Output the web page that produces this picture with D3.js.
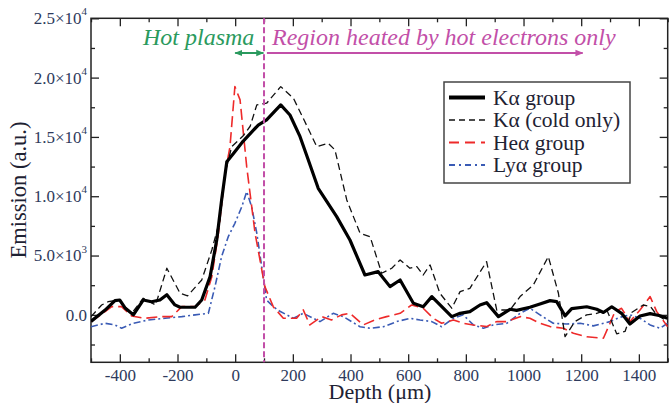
<!DOCTYPE html>
<html>
<head>
<meta charset="utf-8">
<script src="https://cdn.jsdelivr.net/npm/d3@7"></script>
<style>
  html, body { margin: 0; padding: 0; background: #fff; }
  svg { display: block; }
  text { font-family: 'Liberation Serif', serif; }
</style>
</head>
<body>
<div id="chart"></div>
<script>
// ---------------- data ----------------
const xDomain = [-500, 1500];
const yDomain = [-4000, 25000];
const xTicks = [-400, -200, 0, 200, 400, 600, 800, 1000, 1200, 1400];
const xMinorTicks = [-500, -300, -100, 100, 300, 500, 700, 900, 1100, 1300, 1500];
const yTicks = [0, 5000, 10000, 15000, 20000, 25000];
const yTickMantissa = ["0.0", "5.0", "1.0", "1.5", "2.0", "2.5"];
const yTickExponent = [null, "3", "4", "4", "4", "4"];
const yMinorTicks = [-2500, 2500, 7500, 12500, 17500, 22500];

const seriesNames = ["Kα group", "Kα (cold only)", "Heα group", "Lyα group"];

const kaGroup = [[-500,-550],[-451,400],[-417,1200],[-400,1250],[-382,580],[-353,0],[-319,1250],[-290,1100],[-261,1250],[-237,1700],[-209,840],[-191,640],[-139,640],[-116,1250],[-87,3220],[-64,6310],[-47,9690],[-29,12900],[-6,13600],[28,14650],[80,16000],[109,16430],[158,17700],[190,16850],[225,15020],[250,13300],[288,10670],[352,8280],[398,6310],[450,3360],[496,3640],[537,2380],[572,2940],[618,980],[652,690],[682,1540],[751,-150],[780,130],[814,270],[849,830],[872,1030],[913,-150],[953,470],[976,380],[1022,640],[1057,920],[1092,1200],[1115,1110],[1144,-90],[1167,520],[1219,680],[1254,470],[1277,200],[1306,680],[1340,130],[1369,-780],[1404,-100],[1439,100],[1470,-50],[1500,-290]];

const kaCold = [[-500,-150],[-463,830],[-440,1110],[-405,1250],[-359,130],[-319,1400],[-276,830],[-237,3930],[-191,1820],[-165,1600],[-116,2940],[-81,5470],[-53,8000],[-35,11940],[-12,14180],[28,15100],[52,15900],[75,17700],[109,17840],[158,19240],[202,18260],[236,16570],[283,14180],[323,14460],[346,13900],[387,9690],[433,6880],[468,6590],[508,3510],[543,3930],[572,4630],[606,3930],[630,4070],[652,3360],[676,4210],[710,1820],[751,560],[780,1960],[814,2240],[872,4490],[907,410],[953,410],[988,1540],[1034,2520],[1086,4910],[1121,1820],[1144,-1840],[1178,-570],[1219,0],[1250,100],[1289,410],[1323,-1600],[1352,-1400],[1375,200],[1415,830],[1440,700],[1462,0],[1500,-570]];

const heAlpha = [[-500,-570],[-451,270],[-428,690],[-394,690],[-359,-90],[-313,-290],[-255,-150],[-220,-150],[-185,690],[-139,690],[-105,1250],[-81,3220],[-58,6880],[-35,11940],[-18,14180],[-1,19240],[17,18120],[40,12490],[69,6880],[103,2380],[132,690],[167,-290],[213,-290],[236,420],[259,-850],[300,-150],[334,-430],[369,0],[398,130],[444,-850],[485,-430],[525,-150],[572,130],[612,830],[652,560],[687,-290],[716,-710],[757,-430],[791,-710],[826,-850],[872,-990],[907,-570],[942,-570],[988,-150],[1022,-290],[1057,-710],[1092,-990],[1138,-1130],[1173,-1550],[1219,-1840],[1277,-1970],[1300,-710],[1317,270],[1340,550],[1369,-570],[1404,410],[1439,1540],[1462,270],[1500,-1000]];

const lyAlpha = [[-500,-1000],[-451,-710],[-417,-850],[-394,-1130],[-353,-710],[-301,-430],[-243,-290],[-185,-150],[-139,0],[-93,130],[-70,2380],[-47,4910],[-24,6590],[-1,7720],[23,9120],[40,10390],[57,9120],[75,6880],[92,4070],[109,1250],[132,690],[155,300],[202,-290],[236,130],[294,-570],[340,130],[375,-150],[433,-1000],[468,-1130],[514,-1000],[560,-570],[606,-290],[641,-430],[682,-570],[716,-1000],[757,-290],[791,0],[826,-850],[861,-1130],[895,-850],[942,-710],[988,130],[1022,560],[1057,0],[1103,-710],[1150,-770],[1196,-710],[1242,-930],[1300,-570],[1335,-200],[1369,0],[1404,-290],[1439,-850],[1473,-1130],[1500,-710]];

const seriesData = [kaGroup, kaCold, heAlpha, lyAlpha];
const seriesColors = ["#000000", "#111111", "#ee2a2a", "#3a5bb5"];
const seriesWidths = [3.2, 1.3, 1.6, 1.6];
const seriesDash = [null, "7,4", "11,5", "7,3,2,3"];

const annotHot = "Hot plasma";
const annotRegion = "Region heated by hot electrons only";
const boundaryDepth = 100;
const hotArrow = [0, 98];
const regionArrow = [110, 1205];

// ---------------- layout ----------------
const W = 670, H = 403;
const L = 91, R = 667.7, T = 18.3, B = 362.3;
const tickColor = "#2e3a5c";
const titleColor = "#1e2233";
const SERIF = "'Liberation Serif', serif";

const svg = d3.select("#chart").append("svg").attr("width", W).attr("height", H)
  .style("font-family", SERIF);

const x = d3.scaleLinear().domain(xDomain).range([L, R]);
const y = d3.scaleLinear().domain(yDomain).range([B, T]);

const defs = svg.append("defs");
defs.append("clipPath").attr("id", "clip")
  .append("rect").attr("x", L).attr("y", T).attr("width", R - L).attr("height", B - T);

function marker(id, color, orient) {
  defs.append("marker").attr("id", id).attr("viewBox", "0 0 10 10")
    .attr("refX", 9).attr("refY", 5).attr("markerWidth", 4).attr("markerHeight", 4)
    .attr("orient", orient).attr("markerUnits", "strokeWidth")
    .append("path").attr("d", "M0,1 L10,5 L0,9 Z").attr("fill", color);
}
marker("gEnd", "#2a9a5e", "auto");
marker("gStart", "#2a9a5e", "auto-start-reverse");
marker("mEnd", "#c24fa8", "auto");

// axes (ticks inward)
function axisTicks(axisGen, transform) {
  const g = svg.append("g").attr("transform", transform).call(axisGen)
    .attr("font-family", null).style("font-family", SERIF);
  g.select(".domain").remove();
  g.selectAll(".tick line").attr("stroke", "#222").attr("stroke-width", 1.3);
  return g;
}
const fmtNone = () => "";
// bottom
const gx = axisTicks(d3.axisBottom(x).tickValues(xTicks).tickSize(-8).tickPadding(7).tickFormat(d => d), `translate(0,${B})`);
gx.selectAll("text").attr("fill", tickColor).attr("font-size", 17).style("font-family", SERIF);
axisTicks(d3.axisBottom(x).tickValues(xMinorTicks).tickSize(-4).tickFormat(fmtNone), `translate(0,${B})`);
// top
axisTicks(d3.axisTop(x).tickValues(xTicks).tickSize(-8).tickFormat(fmtNone), `translate(0,${T})`);
axisTicks(d3.axisTop(x).tickValues(xMinorTicks).tickSize(-4).tickFormat(fmtNone), `translate(0,${T})`);
// left
const gy = axisTicks(d3.axisLeft(y).tickValues(yTicks).tickSize(-8).tickPadding(4).tickFormat(fmtNone), `translate(${L},0)`);
axisTicks(d3.axisLeft(y).tickValues(yMinorTicks).tickSize(-4).tickFormat(fmtNone), `translate(${L},0)`);
// right
axisTicks(d3.axisRight(y).tickValues(yTicks).tickSize(-8).tickFormat(fmtNone), `translate(${R},0)`);
axisTicks(d3.axisRight(y).tickValues(yMinorTicks).tickSize(-4).tickFormat(fmtNone), `translate(${R},0)`);

// y tick labels with superscripts
gy.selectAll(".tick text").each(function(d) {
  const i = yTicks.indexOf(d);
  const t = d3.select(this).text(null).attr("fill", tickColor).attr("font-size", 17)
    .style("font-family", SERIF).attr("x", -4).attr("dy", "0.32em");
  if (yTickExponent[i]) {
    t.append("tspan").text(yTickMantissa[i] + "×10");
    t.append("tspan").text(yTickExponent[i]).attr("font-size", 11).attr("dy", "-0.8em");
  } else {
    t.append("tspan").text(yTickMantissa[i]);
  }
});

// frame
svg.append("rect").attr("x", L).attr("y", T).attr("width", R - L).attr("height", B - T)
  .attr("fill", "none").attr("stroke", "#222").attr("stroke-width", 1.5);

// series
const line = d3.line().x(d => x(d[0])).y(d => y(d[1]));
const plot = svg.append("g").attr("clip-path", "url(#clip)");
[3, 2, 1, 0].forEach(i => {
  plot.append("path").datum(seriesData[i]).attr("d", line)
    .attr("fill", "none").attr("stroke", seriesColors[i]).attr("stroke-width", seriesWidths[i])
    .attr("stroke-linejoin", "round")
    .attr("stroke-dasharray", seriesDash[i]);
});

// boundary line
svg.append("line").attr("x1", x(boundaryDepth)).attr("x2", x(boundaryDepth))
  .attr("y1", T).attr("y2", B).attr("stroke", "#c24fa8").attr("stroke-width", 2)
  .attr("stroke-dasharray", "6,3");

// annotations
svg.append("text").attr("x", 143).attr("y", 45).text(annotHot).style("font-family", SERIF)
  .attr("fill", "#2a9a5e").attr("font-size", 24).attr("font-style", "italic");
svg.append("text").attr("x", 272).attr("y", 45).text(annotRegion).style("font-family", SERIF)
  .attr("fill", "#c24fa8").attr("font-size", 24).attr("font-style", "italic");
const arrowY = 53;
svg.append("line").attr("x1", x(hotArrow[0])).attr("x2", x(hotArrow[1])).attr("y1", arrowY).attr("y2", arrowY)
  .attr("stroke", "#2a9a5e").attr("stroke-width", 2)
  .attr("marker-start", "url(#gStart)").attr("marker-end", "url(#gEnd)");
svg.append("line").attr("x1", x(regionArrow[0])).attr("x2", x(regionArrow[1])).attr("y1", arrowY).attr("y2", arrowY)
  .attr("stroke", "#c24fa8").attr("stroke-width", 2)
  .attr("marker-end", "url(#mEnd)");

// axis titles
svg.append("text").attr("transform", "translate(26,190) rotate(-90)").attr("text-anchor", "middle")
  .style("font-family", SERIF).attr("fill", titleColor).attr("font-size", 22.5).text("Emission (a.u.)");
svg.append("text").attr("x", 380).attr("y", 399).attr("text-anchor", "middle")
  .style("font-family", SERIF).attr("fill", titleColor).attr("font-size", 22).text("Depth (μm)");

// legend
const lg = svg.append("g");
lg.append("rect").attr("x", 444).attr("y", 82).attr("width", 186).attr("height", 101)
  .attr("fill", "#fff").attr("stroke", "#444").attr("stroke-width", 1.5);
seriesNames.forEach((name, i) => {
  const ly = 97.5 + i * 22.5;
  lg.append("line").attr("x1", 449).attr("x2", 485).attr("y1", ly).attr("y2", ly)
    .attr("stroke", seriesColors[i]).attr("stroke-width", seriesWidths[i] + (i === 0 ? 0.8 : 0.4))
    .attr("stroke-dasharray", i === 1 ? "6,4" : i === 2 ? "10,6" : i === 3 ? "6,4,2,4" : null);
  lg.append("text").attr("x", 493).attr("y", ly).attr("dy", "0.33em").style("font-family", SERIF)
    .attr("fill", titleColor).attr("font-size", 21.5).text(name);
});
</script>
</body>
</html>
